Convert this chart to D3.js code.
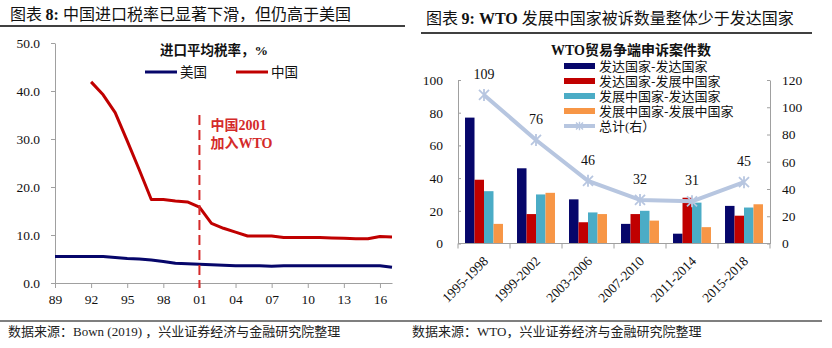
<!DOCTYPE html>
<html><head><meta charset="utf-8">
<script src="https://cdn.jsdelivr.net/npm/d3@7/dist/d3.min.js"></script>
<style>
body{margin:0;background:#fff;}
svg{display:block;font-family:"Liberation Serif","Noto Sans CJK SC",serif;}
</style></head><body>
<svg id="c" width="832" height="348"></svg>
<script>
// ---------- data: left chart ----------
const years = d3.range(1989, 2018);
const usTariff = [5.5,5.5,5.5,5.5,5.5,5.3,5.1,5.0,4.8,4.5,4.1,4.0,3.9,3.8,3.7,3.6,3.6,3.6,3.5,3.6,3.6,3.6,3.6,3.6,3.6,3.6,3.6,3.6,3.3];
const chinaYears = d3.range(1992, 2018);
const chinaTariff = [41.9,39.2,35.5,29.6,23.6,17.4,17.4,17.1,16.9,15.8,12.4,11.4,10.6,9.8,9.8,9.8,9.5,9.5,9.5,9.5,9.4,9.3,9.2,9.2,9.7,9.6];
const xTickYears = [1989,1992,1995,1998,2001,2004,2007,2010,2013,2016];
const leftYTicks = [0,10,20,30,40,50];
// ---------- data: right chart ----------
const periods = ["1995-1998","1999-2002","2003-2006","2007-2010","2011-2014","2015-2018"];
const seriesNames = ["发达国家-发达国家","发达国家-发展中国家","发展中国家-发达国家","发展中国家-发展中国家"];
const devDev   = [77,46,27,12,6,23];
const devDevg  = [39,18,13,18,28,17];
const devgDev  = [32,30,19,20,25,22];
const devgDevg = [12,31,18,14,10,24];
const totals   = [109,76,46,32,31,45];
const rightYTicksL = [0,20,40,60,80,100];
const rightYTicksR = [0,20,40,60,80,100,120];

const svg = d3.select("#c");
const CJK = "'Noto Sans CJK SC',sans-serif";
const SERIF = "'Liberation Serif','Noto Sans CJK SC',serif";
const navy = "#06066a", red = "#c00000", teal = "#4bacc6", orange = "#f79646", lineBlue = "#b7c6e0";
const axisGray = "#a0a0a0";

// ---------- titles ----------
const t1 = svg.append("text").attr("x",10).attr("y",20).attr("font-size",16).attr("font-family",CJK).attr("fill","#111");
t1.append("tspan").text("图表 ");
t1.append("tspan").attr("font-family",SERIF).attr("font-weight","bold").text("8: ");
t1.append("tspan").text("中国进口税率已显著下滑，但仍高于美国");
svg.append("line").attr("x1",0).attr("x2",405).attr("y1",26).attr("y2",26).attr("stroke","#000").attr("stroke-width",1.5);

const t2 = svg.append("text").attr("x",426).attr("y",24).attr("font-size",16).attr("font-family",CJK).attr("fill","#111");
t2.append("tspan").text("图表 ");
t2.append("tspan").attr("font-family",SERIF).attr("font-weight","bold").text("9: WTO ");
t2.append("tspan").text("发展中国家被诉数量整体少于发达国家");
svg.append("line").attr("x1",421).attr("x2",812).attr("y1",33).attr("y2",33).attr("stroke","#000").attr("stroke-width",1.5);

// ---------- footer ----------
svg.append("line").attr("x1",0).attr("x2",822).attr("y1",321).attr("y2",321).attr("stroke","#000").attr("stroke-width",1.2);
const f1 = svg.append("text").attr("x",8).attr("y",336).attr("font-size",13).attr("font-family",CJK).attr("fill","#222");
f1.append("tspan").text("数据来源：");
f1.append("tspan").attr("font-family",SERIF).text("Bown (2019) ");
f1.append("tspan").text("，兴业证券经济与金融研究院整理");
const f2 = svg.append("text").attr("x",412).attr("y",336).attr("font-size",13).attr("font-family",CJK).attr("fill","#222");
f2.append("tspan").text("数据来源：");
f2.append("tspan").attr("font-family",SERIF).text("WTO");
f2.append("tspan").text("，兴业证券经济与金融研究院整理");

// ---------- left chart ----------
const xL = d3.scaleLinear().domain([1989,2017]).range([55,392]);
const yL = d3.scaleLinear().domain([0,50]).range([283,43]);

const gyL = svg.append("g").attr("transform","translate(55,0)")
  .call(d3.axisLeft(yL).tickValues(leftYTicks).tickFormat(d3.format(".1f")).tickSize(4).tickSizeOuter(0).tickPadding(11));
const gxL = svg.append("g").attr("transform","translate(0,283)")
  .call(d3.axisBottom(xL).tickValues(xTickYears).tickFormat(d=>String(d).slice(2)).tickSize(5).tickSizeOuter(0).tickPadding(6));
[gyL,gxL].forEach(g=>{
  g.selectAll("path,line").attr("stroke",axisGray);
  g.selectAll("text").attr("font-size",13.5).attr("font-family",SERIF).attr("fill","#111");
});

const lineL = d3.line().x(d=>xL(d[0])).y(d=>yL(d[1]));
svg.append("path").datum(years.map((y,i)=>[y,usTariff[i]])).attr("d",lineL)
  .attr("fill","none").attr("stroke",navy).attr("stroke-width",3).attr("stroke-linejoin","round");
svg.append("path").datum(chinaYears.map((y,i)=>[y,chinaTariff[i]])).attr("d",lineL)
  .attr("fill","none").attr("stroke",red).attr("stroke-width",3).attr("stroke-linejoin","round");

// WTO accession marker
svg.append("line").attr("x1",xL(2001)).attr("x2",xL(2001)).attr("y1",115).attr("y2",288)
  .attr("stroke","#d42a2a").attr("stroke-width",2).attr("stroke-dasharray","10,5");
const ann = svg.append("text").attr("font-size",14).attr("font-weight","bold").attr("fill","#d42a2a").attr("font-family",CJK);
const a1 = ann.append("tspan").attr("x",xL(2001)+11).attr("y",130);
a1.append("tspan").text("中国");
a1.append("tspan").attr("font-family",SERIF).text("2001");
const a2 = ann.append("tspan").attr("x",xL(2001)+11).attr("y",148);
a2.append("tspan").text("加入");
a2.append("tspan").attr("font-family",SERIF).text("WTO");

// legend left
const lgT = svg.append("text").attr("x",214).attr("y",55).attr("text-anchor","middle").attr("font-size",13.5).attr("font-weight","bold").attr("font-family",CJK).attr("fill","#111");
lgT.append("tspan").text("进口平均税率，");
lgT.append("tspan").attr("font-family",SERIF).text("%");
[[145,navy,"美国"],[236,red,"中国"]].forEach(([x,c,t])=>{
  svg.append("line").attr("x1",x).attr("x2",x+32).attr("y1",72).attr("y2",72).attr("stroke",c).attr("stroke-width",3);
  svg.append("text").attr("x",x+35).attr("y",77).attr("font-size",13.5).attr("font-family",CJK).attr("fill","#111").text(t);
});

// ---------- right chart ----------
const x0 = d3.scaleBand().domain(periods).range([458,770]);
const bw = x0.bandwidth();
const x1 = d3.scaleBand().domain(seriesNames).range([bw*0.135, bw*0.865]);
const yR = d3.scaleLinear().domain([0,100]).range([243.5,80]);
const yR2 = d3.scaleLinear().domain([0,120]).range([243.5,80]);
const seriesVals = [devDev,devDevg,devgDev,devgDevg];
const colors = [navy,red,teal,orange];

seriesVals.forEach((vals,si)=>{
  svg.append("g").selectAll("rect").data(vals).join("rect")
    .attr("x",(d,i)=>x0(periods[i])+x1(seriesNames[si]))
    .attr("width",x1.bandwidth())
    .attr("y",d=>yR(d)).attr("height",d=>yR(0)-yR(d))
    .attr("fill",colors[si]);
});

const gyR1 = svg.append("g").attr("transform","translate(458,0)")
  .call(d3.axisLeft(yR).tickValues(rightYTicksL).tickSize(-3).tickSizeOuter(0).tickPadding(15));
const gyR2 = svg.append("g").attr("transform","translate(770,0)")
  .call(d3.axisRight(yR2).tickValues(rightYTicksR).tickSize(-3).tickSizeOuter(0).tickPadding(12));
[gyR1,gyR2].forEach(g=>{
  g.selectAll("path,line").attr("stroke",axisGray);
  g.selectAll("text").attr("font-size",13.5).attr("font-family",SERIF).attr("fill","#111");
});
// x axis with boundary ticks
const gx = svg.append("g");
gx.append("line").attr("x1",x0.range()[0]).attr("x2",x0.range()[1]).attr("y1",yR(0)).attr("y2",yR(0)).attr("stroke",axisGray);
d3.range(periods.length+1).forEach(i=>{
  const xx = x0.range()[0] + i*x0.step();
  gx.append("line").attr("x1",xx).attr("x2",xx).attr("y1",yR(0)).attr("y2",yR(0)+5).attr("stroke",axisGray);
});
gx.selectAll("text.xl").data(periods).join("text").attr("class","xl")
  .attr("transform",d=>`translate(${x0(d)+bw/2+5},262) rotate(-45)`)
  .attr("text-anchor","end").attr("font-size",13.5).attr("font-family",SERIF).attr("fill","#111").text(d=>d);

// total line
const cx = i => x0(periods[i])+bw/2;
svg.append("path").datum(totals).attr("d",d3.line().x((d,i)=>cx(i)).y(d=>yR2(d)))
  .attr("fill","none").attr("stroke",lineBlue).attr("stroke-width",4).attr("stroke-linejoin","round");
const star = "M-5,-5L5,5M-5,5L5,-5M0,-6L0,6";
svg.append("g").selectAll("path").data(totals).join("path")
  .attr("transform",(d,i)=>`translate(${cx(i)},${yR2(d)})`).attr("d",star)
  .attr("stroke",lineBlue).attr("stroke-width",1.8).attr("fill","none");
svg.append("g").selectAll("text").data(totals).join("text")
  .attr("x",(d,i)=>cx(i)).attr("y",d=>yR2(d)-16).attr("text-anchor","middle")
  .attr("font-size",14).attr("font-family",SERIF).attr("fill","#111").text(d=>d);

// right chart title + legend
const rt = svg.append("text").attr("x",631).attr("y",55).attr("text-anchor","middle").attr("font-size",14).attr("font-weight","bold").attr("font-family",CJK).attr("fill","#111");
rt.append("tspan").attr("font-family",SERIF).text("WTO");
rt.append("tspan").text("贸易争端申诉案件数");
const legY = [66,81,96,111];
seriesNames.forEach((n,i)=>{
  svg.append("rect").attr("x",564).attr("y",legY[i]-3).attr("width",31).attr("height",6).attr("fill",colors[i]);
  svg.append("text").attr("x",599).attr("y",legY[i]+5).attr("font-size",13).attr("font-family",CJK).attr("fill","#111").text(n);
});
svg.append("line").attr("x1",564).attr("x2",595).attr("y1",126).attr("y2",126).attr("stroke",lineBlue).attr("stroke-width",4);
svg.append("path").attr("transform","translate(579.5,126) scale(0.7)").attr("d",star).attr("stroke",lineBlue).attr("stroke-width",2).attr("fill","none");
const lt = svg.append("text").attr("x",599).attr("y",131).attr("font-size",13).attr("font-family",CJK).attr("fill","#111");
lt.append("tspan").text("总计");
lt.append("tspan").attr("font-family",SERIF).text("(");
lt.append("tspan").text("右）");
</script>
</body></html>
